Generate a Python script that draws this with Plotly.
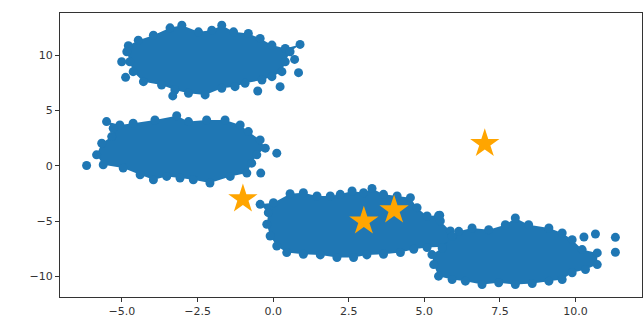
import plotly.graph_objects as go

# Cluster outlines (edge points) and outliers
c1_x = [-4.79, -4.46, -3.96, -3.41, -3.02, -2.47, -2.03, -1.70, -1.31, -0.82, -0.43, -0.04, 0.40, 0.89, 0.56, 0.40, 0.29, -0.04, -0.37, -0.93, -1.26, -1.70, -2.25, -2.80, -3.25, -3.69, -4.29, -4.63, -4.74, -4.84]
c1_y = [10.84, 11.35, 11.80, 12.46, 12.70, 12.10, 12.25, 12.70, 12.10, 11.95, 11.50, 10.90, 10.60, 10.96, 10.30, 9.40, 8.50, 8.05, 7.75, 7.45, 7.15, 7.00, 6.40, 6.55, 6.85, 7.30, 7.60, 8.50, 9.40, 10.30]
c1_out_x = [-5.01, -4.88, 0.71, 0.84, 0.23, -0.51, -3.32]
c1_out_y = [9.40, 7.99, 9.61, 8.41, 7.15, 6.76, 6.31]

c2_x = [-5.51, -5.07, -4.63, -3.91, -3.19, -2.80, -2.20, -1.59, -1.09, -0.82, -0.43, -0.26, -0.54, -0.71, -0.87, -1.42, -2.09, -2.64, -3.08, -3.52, -3.96, -4.40, -4.96, -5.62, -5.84, -5.67, -5.34, -5.29]
c2_y = [3.99, 3.69, 3.84, 4.14, 4.53, 3.99, 4.14, 4.14, 3.69, 3.09, 2.34, 1.59, 0.99, 0.24, -0.66, -0.96, -1.56, -1.26, -1.11, -0.96, -1.26, -0.81, -0.21, 0.09, 0.99, 2.04, 2.64, 3.39]
c2_out_x = [-6.17, 0.12, -0.41]
c2_out_y = [0.03, 1.14, -0.66]

c3_x = [-0.43, 0.01, 0.56, 1.00, 1.45, 1.89, 2.22, 2.61, 2.99, 3.27, 3.65, 4.10, 4.54, 4.76, 5.09, 5.51, 5.53, 5.86, 6.00, 5.80, 5.09, 4.65, 4.21, 3.65, 3.10, 2.66, 2.11, 1.56, 1.00, 0.45, 0.12, -0.10, -0.21, -0.16]
c3_y = [-3.48, -3.33, -2.52, -2.43, -2.73, -2.73, -2.58, -2.28, -2.43, -2.04, -2.58, -2.73, -2.88, -3.78, -4.53, -4.47, -4.98, -5.88, -6.50, -7.30, -7.39, -7.54, -7.84, -7.99, -8.05, -8.29, -8.29, -8.05, -7.99, -7.84, -7.24, -6.34, -5.28, -4.23]

c4_x = [6.14, 6.58, 7.13, 7.68, 8.01, 8.45, 9.12, 9.56, 9.89, 10.22, 10.72, 10.72, 10.33, 9.89, 9.56, 9.12, 8.57, 8.01, 7.46, 6.91, 6.36, 5.92, 5.47, 5.31, 5.25, 5.59, 5.92]
c4_y = [-5.92, -5.62, -5.77, -5.32, -4.71, -5.32, -5.62, -6.07, -6.67, -7.57, -7.87, -8.92, -9.37, -9.67, -10.27, -10.42, -10.63, -10.72, -10.57, -10.72, -10.42, -10.27, -9.97, -8.92, -8.02, -7.42, -6.37]
c4_out_x = [10.28, 10.66, 11.32, 11.32, 5.47]
c4_out_y = [-6.43, -6.16, -6.46, -7.81, -4.50]

star_x = [-1, 3, 4, 7]
star_y = [-3, -5, -4, 2]

x_ticks = [-5, -2.5, 0, 2.5, 5, 7.5, 10]
x_labels = ["\u22125.0", "\u22122.5", "0.0", "2.5", "5.0", "7.5", "10.0"]
y_ticks = [-10, -5, 0, 5, 10]
y_labels = ["\u221210", "\u22125", "0", "5", "10"]

BLUE = "#1f77b4"
MS = 9

fig = go.Figure()
for px, py in [(c1_x, c1_y), (c2_x, c2_y), (c3_x, c3_y), (c4_x, c4_y)]:
    fig.add_trace(go.Scatter(x=px, y=py, mode="markers", fill="toself", fillcolor=BLUE,
                             line=dict(width=0), marker=dict(color=BLUE, size=MS),
                             hoverinfo="skip", showlegend=False))
fig.add_trace(go.Scatter(x=c1_out_x + c2_out_x + c4_out_x, y=c1_out_y + c2_out_y + c4_out_y,
                         mode="markers", marker=dict(color=BLUE, size=MS), showlegend=False))
fig.add_trace(go.Scatter(x=star_x, y=star_y, mode="markers",
                         marker=dict(symbol="star", color="#ffa500", size=22, line=dict(width=0)),
                         showlegend=False))

axis_common = dict(showgrid=False, zeroline=False, showline=True, mirror=True,
                   linecolor="#333333", linewidth=1, ticks="outside", ticklen=4,
                   tickcolor="#333333", tickfont=dict(family="DejaVu Sans", size=11, color="#333333"))
fig.update_xaxes(range=[-7.05, 12.2], tickvals=x_ticks, ticktext=x_labels, **axis_common)
fig.update_yaxes(range=[-11.85, 13.8], tickvals=y_ticks, ticktext=y_labels, **axis_common)
fig.update_layout(width=643, height=321, margin=dict(l=60, r=1, t=13, b=24),
                  plot_bgcolor="white", paper_bgcolor="white")
fig.write_html("out.html", config={"displayModeBar": False},
               post_script="document.body.style.margin='0';document.body.style.overflow='hidden';")
